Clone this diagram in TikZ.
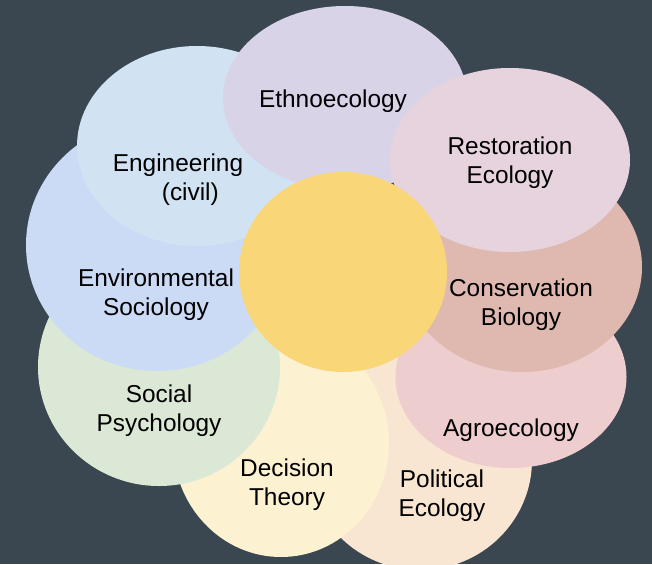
\documentclass[tikz,border=0pt]{standalone}
\usepackage{fontspec}
\setmainfont{Liberation Sans}
\usetikzlibrary{shapes.geometric}

\definecolor{slate}{HTML}{3B4750}
\definecolor{ethnoC}{HTML}{D9D3E8}
\definecolor{restoC}{HTML}{E7D3DE}
\definecolor{consC}{HTML}{DFB9AF}
\definecolor{agroC}{HTML}{EDCDCE}
\definecolor{poliC}{HTML}{F8E5D2}
\definecolor{deciC}{HTML}{FCF1D1}
\definecolor{sociC}{HTML}{DCE8D6}
\definecolor{envC}{HTML}{CBDAF5}
\definecolor{engC}{HTML}{D1E2F2}
\definecolor{coreC}{HTML}{F9D779}

\begin{document}
\begin{tikzpicture}[
    x=1pt, y=-1pt,
    petal/.style={ellipse, inner sep=0pt, outer sep=0pt},
    field/.style={font=\fontsize{24.4}{28.8}\selectfont, align=center, text=black, inner sep=0pt}
]

% Background
\fill[slate] (0,0) rectangle (652,564);
\useasboundingbox (0,0) rectangle (652,564);

% ============ Petals (back to front) ============
\node[petal, fill=poliC, minimum width=224pt, minimum height=220pt] (poli) at (420,460) {};
\node[petal, fill=deciC, minimum width=216pt, minimum height=228pt] (deci) at (281,443) {};
\node[petal, fill=agroC, minimum width=231pt, minimum height=182pt] (agro) at (511,377) {};
\node[petal, fill=sociC, minimum width=242pt, minimum height=238pt] (soci) at (159,367) {};
\node[petal, fill=consC, minimum width=240pt, minimum height=210pt] (cons) at (522,267) {};
\node[petal, fill=envC, minimum width=262pt, minimum height=252pt] (env) at (157,245) {};
\node[petal, fill=engC, minimum width=240pt, minimum height=200pt] (eng) at (197,146) {};
\node[petal, fill=ethnoC, minimum width=244pt, minimum height=184pt] (ethno) at (345,98) {};
\node[petal, fill=restoC, minimum width=240pt, minimum height=184pt] (resto) at (510,160) {};

% Centre
\node[petal, fill=coreC, minimum width=208pt, minimum height=200pt] (core) at (343,272) {};

% ============ Labels ============
\node[field] (ethnoT) at (333,101) {Ethnoecology};
\node[field] (restoT) at (510,163) {Restoration\\Ecology};
\node[field] (consT) at (521,305) {Conservation\\Biology};
\node[field] (agroT) at (511,430) {Agroecology};
\node[field] (poliT) at (442,496) {Political\\Ecology};
\node[field] (deciT) at (287,485) {Decision\\Theory};
\node[field] (sociT) at (159,411) {Social\\Psychology};
\node[field] (envT) at (156,295) {Environmental\\Sociology};
\node[field, align=left] (engT) at (178,180) {Engineering\\\hspace*{49pt}(civil)};

\end{tikzpicture}
\end{document}
